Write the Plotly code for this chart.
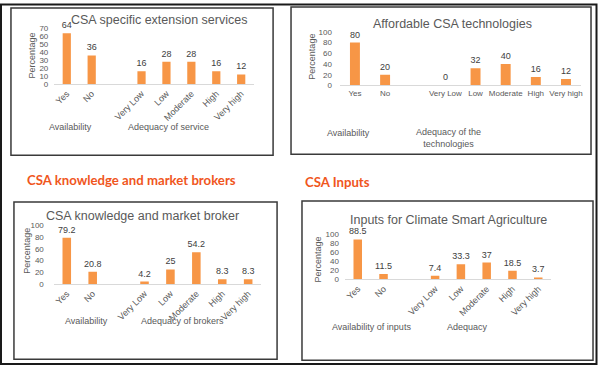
import plotly.graph_objects as go

W, H = 600, 371

categories = ["Yes", "No", " ", "Very Low", "Low", "Moderate", "High", "Very high"]
extension_values = [64, 36, None, 16, 28, 28, 16, 12]
technology_values = [80, 20, None, 0, 32, 40, 16, 12]
broker_values = [79.2, 20.8, None, 4.2, 25, 54.2, 8.3, 8.3]
input_values = [88.5, 11.5, None, 7.4, 33.3, 37, 18.5, 3.7]

titles = ["CSA specific extension services", "Affordable CSA technologies",
          "CSA knowledge and market broker", "Inputs for Climate Smart Agriculture"]
group_labels = [("Availability", "Adequacy of service"),
                ("Availability", "Adequacy of the<br>technologies"),
                ("Availability", "Adequacy of brokers"),
                ("Availability of inputs", "Adequacy")]
headings = ["CSA knowledge and market brokers", "CSA Inputs"]

BAR = "#F79646"
GRAY = "#595959"
FONT = "Liberation Sans, Arial, sans-serif"


def px(x):
    return x / W


def py(y):
    return 1 - y / H


# panel geometry (pixels)
panels = [
    dict(vals=extension_values, xd=(54.5, 254.5), yd=(82, 25), ymax=70, dtick=10, angle=-45,
         title=(160, 16), ytitle=(32, 53), groups=((71, 126), (169, 126)), standoff=5,
         box=(11, 4, 274, 155), tfs=9),
    dict(vals=technology_values, xd=(341, 583), yd=(83.5, 28.5), ymax=100, dtick=20, angle=0,
         title=(454, 20), ytitle=(313, 54), groups=((350, 132), (450, 137)), standoff=7,
         box=(292, 3, 593, 154), tfs=8),
    dict(vals=broker_values, xd=(54, 262), yd=(287, 227), ymax=100, dtick=20, angle=-45,
         title=(143, 217), ytitle=(27, 253), groups=((87, 325), (183, 325)), standoff=9,
         box=(14, 203, 278, 364), tfs=9),
    dict(vals=input_values, xd=(346, 553), yd=(282, 236), ymax=100, dtick=20, angle=-45,
         title=(450, 221.5), ytitle=(319, 262), groups=((373, 331), (469, 331)), standoff=5,
         box=(303, 202, 595, 365), tfs=9),
]

fig = go.Figure()
annotations = []
shapes = []

# outer frame
shapes.append(dict(type="rect", xref="paper", yref="paper", x0=px(1), x1=px(598.5),
                   y0=py(369), y1=py(0.5), line=dict(color="#1a1a1a", width=2)))

for i, p in enumerate(panels):
    n = i + 1
    xa = "x" if n == 1 else f"x{n}"
    ya = "y" if n == 1 else f"y{n}"
    fig.add_trace(go.Bar(
        x=categories, y=p["vals"], xaxis=xa, yaxis=ya,
        marker=dict(color=BAR, line=dict(width=0)), width=0.33,
        texttemplate="%{y}", textposition="outside", cliponaxis=False,
        constraintext="none",
        textfont=dict(family=FONT, size=9, color="#404040"),
        showlegend=False, hoverinfo="skip",
    ))
    xkey = "xaxis" if n == 1 else f"xaxis{n}"
    ykey = "yaxis" if n == 1 else f"yaxis{n}"
    fig.update_layout(**{
        xkey: dict(domain=[px(p["xd"][0]), px(p["xd"][1])], anchor=ya,
                   type="category", categoryorder="array", categoryarray=categories,
                   range=[-0.5, 7.5], showgrid=False, zeroline=False,
                   showline=True, linecolor="#D9D9D9", linewidth=1,
                   ticks="", tickangle=p["angle"], fixedrange=True,
                   tickfont=dict(family=FONT, size=p["tfs"], color=GRAY)),
        ykey: dict(domain=[py(p["yd"][0]), py(p["yd"][1])], anchor=xa,
                   range=[0, p["ymax"]], dtick=p["dtick"], showgrid=False,
                   zeroline=False, showline=False, ticks="", fixedrange=True,
                   ticklabelstandoff=p["standoff"],
                   tickfont=dict(family=FONT, size=8, color=GRAY)),
    })
    # chart title
    annotations.append(dict(text=titles[i], x=px(p["title"][0]), y=py(p["title"][1]),
                            xref="paper", yref="paper", showarrow=False,
                            xanchor="center", yanchor="middle",
                            font=dict(family=FONT, size=12.5, color=GRAY)))
    # y axis title
    annotations.append(dict(text="Percentage", x=px(p["ytitle"][0]), y=py(p["ytitle"][1]),
                            xref="paper", yref="paper", showarrow=False, textangle=-90,
                            xanchor="center", yanchor="middle",
                            font=dict(family=FONT, size=9, color=GRAY)))
    # group labels
    for lbl, (gx, gy) in zip(group_labels[i], p["groups"]):
        annotations.append(dict(text=lbl, x=px(gx), y=py(gy), xref="paper", yref="paper",
                                showarrow=False, xanchor="center", yanchor="middle",
                                font=dict(family=FONT, size=9, color=GRAY)))
    # panel box
    bx0, by0, bx1, by1 = p["box"]
    shapes.append(dict(type="rect", xref="paper", yref="paper", x0=px(bx0), x1=px(bx1),
                       y0=py(by1), y1=py(by0), line=dict(color="#3a3a3a", width=1.5)))

# section headings
annotations.append(dict(text="<b>" + headings[0] + "</b>", x=px(132), y=py(180),
                        xref="paper", yref="paper", showarrow=False,
                        xanchor="center", yanchor="middle",
                        font=dict(family="Lato, Open Sans, sans-serif", size=13.2, color="#F0561D")))
annotations.append(dict(text="<b>" + headings[1] + "</b>", x=px(338.5), y=py(182),
                        xref="paper", yref="paper", showarrow=False,
                        xanchor="center", yanchor="middle",
                        font=dict(family="Lato, Open Sans, sans-serif", size=13.2, color="#F0561D")))

fig.update_layout(width=W, height=H, margin=dict(l=0, r=0, t=0, b=0),
                  paper_bgcolor="white", plot_bgcolor="rgba(0,0,0,0)",
                  annotations=annotations, shapes=shapes, showlegend=False,
                  hovermode=False, dragmode=False)

fig.write_html("out.html", config={"displayModeBar": False, "staticPlot": True},
               post_script="document.body.style.margin='0';document.body.style.padding='0';")
